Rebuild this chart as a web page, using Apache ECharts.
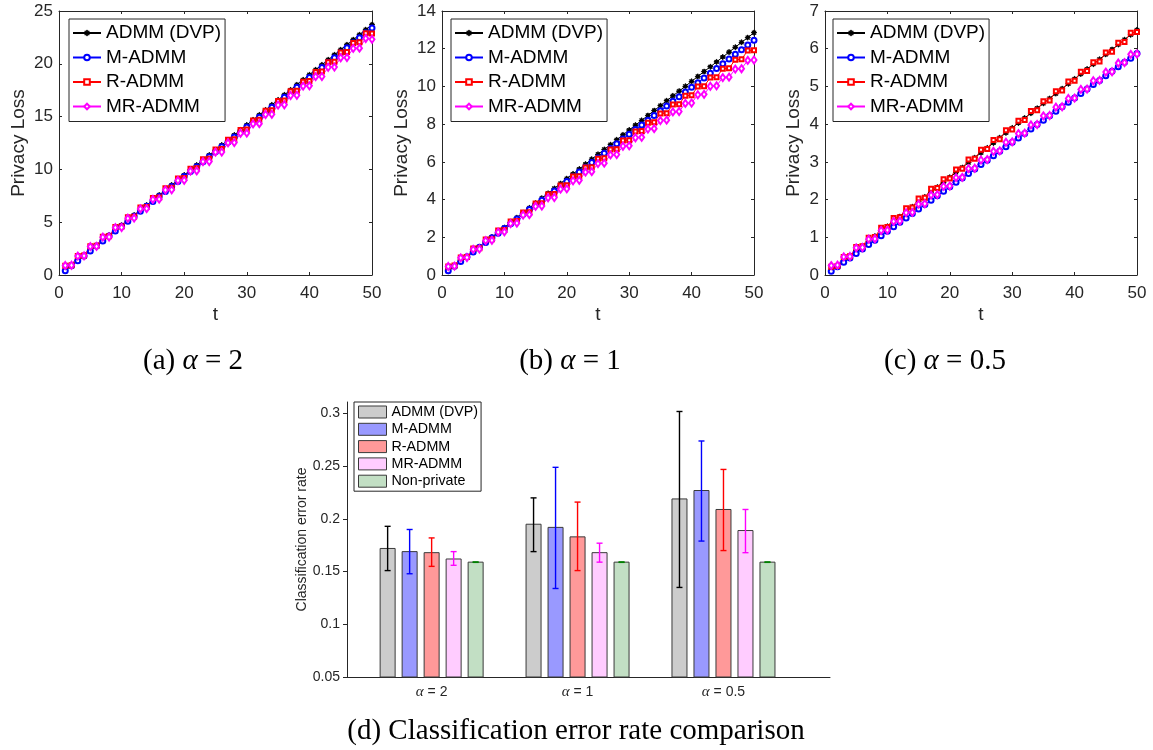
<!DOCTYPE html>
<html><head><meta charset="utf-8">
<script src="https://cdn.jsdelivr.net/npm/echarts@6/dist/echarts.min.js"></script>
<style>html,body{margin:0;padding:0;background:#fff}#c{width:1153px;height:750px}</style>
</head><body><div id="c"></div><script>
// ---------- data ----------
const t = [1,2,3,4,5,6,7,8,9,10,11,12,13,14,15,16,17,18,19,20,21,22,23,24,25,26,27,28,29,30,31,32,33,34,35,36,37,38,39,40,41,42,43,44,45,46,47,48,49,50];
const lineNames = ['ADMM (DVP)', 'M-ADMM', 'R-ADMM', 'MR-ADMM'];

// (a) alpha = 2
const a_admm = [0.45,0.92,1.40,1.87,2.35,2.82,3.30,3.77,4.25,4.72,5.20,5.67,6.14,6.62,7.09,7.57,8.04,8.52,8.99,9.47,9.94,10.41,10.89,11.36,11.84,12.31,12.79,13.26,13.74,14.21,14.69,15.16,15.63,16.11,16.58,17.06,17.53,18.01,18.48,18.96,19.43,19.90,20.38,20.85,21.33,21.80,22.28,22.75,23.23,23.70];
const a_m = [0.40,0.87,1.34,1.81,2.28,2.75,3.22,3.69,4.16,4.62,5.09,5.56,6.03,6.50,6.97,7.44,7.91,8.38,8.85,9.32,9.79,10.26,10.73,11.20,11.67,12.14,12.60,13.07,13.54,14.01,14.48,14.95,15.42,15.89,16.36,16.83,17.30,17.77,18.24,18.71,19.18,19.65,20.12,20.58,21.05,21.52,21.99,22.46,22.93,23.40];
const a_r = [0.88,0.93,1.80,1.85,2.72,2.77,3.63,3.68,4.55,4.60,5.47,5.52,6.39,6.44,7.30,7.35,8.22,8.27,9.14,9.19,10.06,10.11,10.97,11.02,11.89,11.94,12.81,12.86,13.73,13.78,14.64,14.69,15.56,15.61,16.48,16.53,17.40,17.45,18.31,18.36,19.23,19.28,20.15,20.20,21.07,21.12,21.98,22.03,22.90,22.88];
const a_mr = [0.90,0.92,1.79,1.81,2.69,2.71,3.58,3.60,4.48,4.50,5.37,5.39,6.26,6.28,7.16,7.18,8.05,8.07,8.95,8.97,9.84,9.86,10.73,10.75,11.63,11.65,12.52,12.54,13.42,13.44,14.31,14.33,15.20,15.22,16.10,16.12,17.00,17.02,17.89,17.91,18.78,18.80,19.67,19.69,20.57,20.59,21.46,21.48,22.40,22.32];

// (b) alpha = 1
const b_admm = [0.20,0.46,0.72,0.97,1.23,1.49,1.75,2.01,2.27,2.52,2.78,3.04,3.30,3.56,3.81,4.07,4.33,4.59,4.85,5.11,5.36,5.62,5.88,6.14,6.40,6.66,6.91,7.17,7.43,7.69,7.95,8.20,8.46,8.72,8.98,9.24,9.50,9.75,10.01,10.27,10.53,10.79,11.04,11.30,11.56,11.82,12.08,12.34,12.59,12.85];
const b_m = [0.22,0.47,0.72,0.97,1.22,1.47,1.72,1.97,2.22,2.47,2.72,2.97,3.22,3.47,3.72,3.96,4.21,4.46,4.71,4.96,5.21,5.46,5.71,5.96,6.21,6.46,6.71,6.96,7.21,7.46,7.71,7.96,8.21,8.46,8.71,8.96,9.21,9.45,9.70,9.95,10.20,10.45,10.70,10.95,11.20,11.45,11.70,11.95,12.20,12.45];
const b_r = [0.45,0.50,0.93,0.95,1.40,1.42,1.88,1.90,2.36,2.38,2.84,2.86,3.31,3.33,3.79,3.81,4.27,4.29,4.74,4.76,5.22,5.24,5.70,5.72,6.17,6.19,6.65,6.67,7.13,7.15,7.61,7.63,8.08,8.10,8.56,8.58,9.04,9.06,9.51,9.53,9.99,10.01,10.47,10.49,10.94,10.96,11.42,11.44,11.90,11.92];
const b_mr = [0.45,0.47,0.91,0.93,1.36,1.38,1.82,1.84,2.27,2.29,2.73,2.75,3.18,3.20,3.64,3.66,4.09,4.11,4.55,4.57,5.00,5.02,5.46,5.48,5.91,5.93,6.37,6.39,6.83,6.85,7.28,7.30,7.74,7.76,8.19,8.21,8.65,8.67,9.10,9.12,9.56,9.58,10.01,10.03,10.47,10.49,10.92,10.94,11.38,11.40];

// (c) alpha = 0.5
const c_admm = [0.12,0.25,0.38,0.51,0.64,0.77,0.90,1.03,1.16,1.29,1.42,1.55,1.68,1.81,1.94,2.07,2.20,2.33,2.46,2.59,2.72,2.85,2.98,3.11,3.24,3.37,3.50,3.64,3.77,3.90,4.03,4.16,4.29,4.42,4.55,4.68,4.81,4.94,5.07,5.20,5.33,5.46,5.59,5.72,5.85,5.98,6.11,6.24,6.37,6.50];
const c_m = [0.10,0.22,0.34,0.45,0.57,0.69,0.81,0.92,1.04,1.16,1.28,1.40,1.51,1.63,1.75,1.87,1.98,2.10,2.22,2.34,2.46,2.57,2.69,2.81,2.93,3.04,3.16,3.28,3.40,3.52,3.63,3.75,3.87,3.99,4.10,4.22,4.34,4.46,4.58,4.69,4.81,4.93,5.05,5.16,5.28,5.40,5.52,5.64,5.75,5.87];
const c_r = [0.22,0.24,0.48,0.50,0.74,0.76,0.99,1.01,1.25,1.27,1.51,1.53,1.77,1.79,2.03,2.05,2.29,2.31,2.54,2.56,2.80,2.82,3.06,3.08,3.32,3.34,3.58,3.60,3.84,3.86,4.09,4.11,4.35,4.37,4.61,4.63,4.87,4.89,5.13,5.15,5.39,5.41,5.64,5.66,5.90,5.92,6.16,6.18,6.42,6.44];
const c_mr = [0.25,0.26,0.48,0.49,0.72,0.73,0.95,0.96,1.18,1.19,1.42,1.43,1.65,1.66,1.88,1.89,2.12,2.13,2.35,2.36,2.58,2.59,2.82,2.83,3.05,3.06,3.28,3.29,3.52,3.53,3.75,3.76,3.98,3.99,4.22,4.23,4.45,4.46,4.68,4.69,4.92,4.93,5.15,5.16,5.38,5.39,5.62,5.63,5.85,5.86];

const yMaxA = 25, yStepA = 5;
const yMaxB = 14, yStepB = 2;
const yMaxC = 7,  yStepC = 1;

// (d) classification error
const barCats = ['2', '1', '0.5'];
const barNames = ['ADMM (DVP)', 'M-ADMM', 'R-ADMM', 'MR-ADMM', 'Non-private'];
const mean_admm = [0.172, 0.195, 0.219];
const low_admm  = [0.151, 0.169, 0.135];
const high_admm = [0.193, 0.220, 0.302];
const mean_m = [0.169, 0.192, 0.227];
const low_m  = [0.148, 0.134, 0.179];
const high_m = [0.190, 0.249, 0.274];
const mean_r = [0.168, 0.183, 0.209];
const low_r  = [0.155, 0.151, 0.170];
const high_r = [0.182, 0.216, 0.247];
const mean_mr = [0.162, 0.168, 0.189];
const low_mr  = [0.156, 0.159, 0.168];
const high_mr = [0.169, 0.177, 0.209];
const mean_np = [0.159, 0.159, 0.159];
const low_np  = [0.1588, 0.1588, 0.1588];
const high_np = [0.1592, 0.1592, 0.1592];
const barYTicks = [0.05, 0.1, 0.15, 0.2, 0.25, 0.3];

// ---------- styles ----------
const AX = '#262626';
const FONT = 'Liberation Sans';
const ASTERISK = 'path://M-0.55,-5H0.55V5H-0.55Z M-5,-0.55H5V0.55H-5Z M-3.9,-3.1L-3.1,-3.9L3.9,3.1L3.1,3.9Z M3.1,-3.9L3.9,-3.1L-3.1,3.9L-3.9,3.1Z';
const lineColors = ['#000000', '#0000ff', '#ff0000', '#ff00ff'];
const lineSymbols = [ASTERISK, 'emptyCircle', 'emptyRect', 'emptyDiamond'];
const lineSymbolSizes = [5, 5, 4, [5, 7]];
const barFill = ['#cccccc', '#9999ff', '#ff9999', '#ffccff', '#c2dfc4'];
const barErr = ['#000000', '#0000ff', '#ff0000', '#ff00ff', '#008000'];

const grids = [
  {left: 59, top: 11, width: 313, height: 264},
  {left: 442, top: 11, width: 312, height: 264},
  {left: 825, top: 11, width: 312, height: 264},
  {left: 347, top: 402, width: 483, height: 275}
];

const xAxes = [], yAxes = [], series = [], legends = [];
const panels = [
  {data: [a_admm, a_m, a_r, a_mr], ymax: yMaxA, ystep: yStepA, nameGap: 31, legendLeft: 69},
  {data: [b_admm, b_m, b_r, b_mr], ymax: yMaxB, ystep: yStepB, nameGap: 31, legendLeft: 451},
  {data: [c_admm, c_m, c_r, c_mr], ymax: yMaxC, ystep: yStepC, nameGap: 22, legendLeft: 833}
];

panels.forEach((p, g) => {
  const common = {gridIndex: g, type: 'value', min: 0, splitLine: {show: false},
    axisLine: {show: true, onZero: false, lineStyle: {color: AX, width: 1}},
    axisTick: {show: true, inside: true, length: 3, lineStyle: {color: AX}}};
  xAxes.push(Object.assign({}, common, {position: 'bottom', max: 50, interval: 10,
    name: 't', nameLocation: 'middle', nameGap: 30,
    nameTextStyle: {fontFamily: FONT, fontSize: 19, color: AX},
    axisLabel: {fontFamily: FONT, fontSize: 17, color: AX, margin: 10}}));
  xAxes.push(Object.assign({}, common, {position: 'top', max: 50, interval: 10, axisLabel: {show: false}}));
  yAxes.push(Object.assign({}, common, {position: 'left', max: p.ymax, interval: p.ystep,
    name: 'Privacy Loss', nameLocation: 'middle', nameGap: p.nameGap,
    nameTextStyle: {fontFamily: FONT, fontSize: 19, color: AX},
    axisLabel: {fontFamily: FONT, fontSize: 17, color: AX, margin: 6}}));
  yAxes.push(Object.assign({}, common, {position: 'right', max: p.ymax, interval: p.ystep, axisLabel: {show: false}}));
  p.data.forEach((arr, i) => {
    series.push({
      type: 'line', name: lineNames[i], xAxisIndex: 2 * g, yAxisIndex: 2 * g,
      data: t.map((tt, k) => [tt, arr[k]]),
      symbol: lineSymbols[i], symbolSize: lineSymbolSizes[i], showSymbol: true,
      lineStyle: {color: lineColors[i], width: 1},
      itemStyle: {color: lineColors[i], borderColor: lineColors[i], borderWidth: 1},
      emphasis: {disabled: true}, animation: false
    });
  });
  legends.push({
    orient: 'vertical', left: p.legendLeft, top: 19, data: lineNames,
    itemWidth: 28, itemHeight: 7, itemGap: 4.5,
    itemStyle: {borderWidth: 1},
    padding: [4, 4, 5, 3], borderColor: AX, borderWidth: 1, backgroundColor: '#fff',
    textStyle: {fontFamily: FONT, fontSize: 19, color: '#000', lineHeight: 20},
    selectedMode: false
  });
});

// bar chart axes
xAxes.push({gridIndex: 3, type: 'value', min: 0.42, max: 3.73, position: 'bottom',
  splitLine: {show: false},
  axisLine: {show: true, onZero: false, lineStyle: {color: AX, width: 1}},
  axisTick: {show: false},
  axisLabel: {customValues: [1, 2, 3], fontFamily: FONT, fontSize: 14, color: AX, margin: 8,
    formatter: v => '{i|α} = ' + barCats[Math.round(v) - 1],
    rich: {i: {fontFamily: 'Liberation Serif', fontStyle: 'italic', fontSize: 15, color: AX}}}
});
yAxes.push({gridIndex: 3, type: 'value', min: 0.05, max: 0.311, position: 'left',
  splitLine: {show: false},
  name: 'Classification error rate', nameLocation: 'middle', nameGap: 38,
  nameTextStyle: {fontFamily: FONT, fontSize: 14, color: AX},
  axisLine: {show: true, onZero: false, lineStyle: {color: AX, width: 1}},
  axisTick: {show: true, inside: false, length: 4, customValues: barYTicks, lineStyle: {color: AX}},
  axisLabel: {customValues: barYTicks, fontFamily: FONT, fontSize: 14, color: AX, margin: 7}
});

const barSets = [
  [mean_admm, low_admm, high_admm],
  [mean_m, low_m, high_m],
  [mean_r, low_r, high_r],
  [mean_mr, low_mr, high_mr],
  [mean_np, low_np, high_np]
];
barSets.forEach((s, j) => {
  const offset = (j - 2) * 22;
  series.push({
    type: 'custom', name: 'b_' + barNames[j], xAxisIndex: 6, yAxisIndex: 6,
    itemStyle: {color: barFill[j]}, clip: false, animation: false,
    data: barCats.map((c, k) => [k + 1, s[0][k], s[1][k], s[2][k]]),
    renderItem: (params, api) => {
      const x = api.value(0);
      const base = api.coord([x, 0.05]);
      const top = api.coord([x, api.value(1)]);
      const lo = api.coord([x, api.value(2)]);
      const hi = api.coord([x, api.value(3)]);
      const cx = base[0] + offset;
      const ec = barErr[j];
      return {type: 'group', children: [
        {type: 'rect', shape: {x: cx - 7.5, y: top[1], width: 15, height: base[1] - top[1]},
          style: {fill: barFill[j], stroke: '#3a3a3a', lineWidth: 1}},
        {type: 'line', shape: {x1: cx, y1: lo[1], x2: cx, y2: hi[1]}, style: {stroke: ec, lineWidth: 1.4}},
        {type: 'line', shape: {x1: cx - 3, y1: lo[1], x2: cx + 3, y2: lo[1]}, style: {stroke: ec, lineWidth: 1.4}},
        {type: 'line', shape: {x1: cx - 3, y1: hi[1], x2: cx + 3, y2: hi[1]}, style: {stroke: ec, lineWidth: 1.4}}
      ]};
    }
  });
});
legends.push({
  orient: 'vertical', left: 354, top: 402,
  data: barNames.map((n, j) => ({name: 'b_' + n, icon: 'rect',
    itemStyle: {color: barFill[j], borderColor: '#3a3a3a', borderWidth: 1}})),
  formatter: n => n.replace(/^b_/, ''),
  itemWidth: 28, itemHeight: 12, itemGap: 1.3,
  padding: [2, 3, 2, 4], borderColor: AX, borderWidth: 1, backgroundColor: '#fff',
  textStyle: {fontFamily: FONT, fontSize: 14.3, color: '#000', lineHeight: 16},
  selectedMode: false
});

const capFont = 'Liberation Serif';
const capSize = 29;
function caption(x, y, txt) {
  return {type: 'text', x: x, y: y, silent: true,
    style: {text: txt, fontFamily: capFont, fontSize: capSize, fill: '#000',
      align: 'center', verticalAlign: 'middle',
      rich: {i: {fontFamily: capFont, fontStyle: 'italic', fontSize: capSize}}}};
}

const chart = echarts.init(document.getElementById('c'), null, {renderer: 'canvas'});
chart.setOption({
  animation: false,
  backgroundColor: '#fff',
  grid: grids,
  xAxis: xAxes,
  yAxis: yAxes,
  legend: legends,
  series: series,
  graphic: [
    caption(193, 361, '(a) {i|α} = 2'),
    caption(570, 361, '(b) {i|α} = 1'),
    caption(945, 361, '(c) {i|α} = 0.5'),
    caption(576, 731, '(d) Classification error rate comparison')
  ]
});
</script></body></html>
